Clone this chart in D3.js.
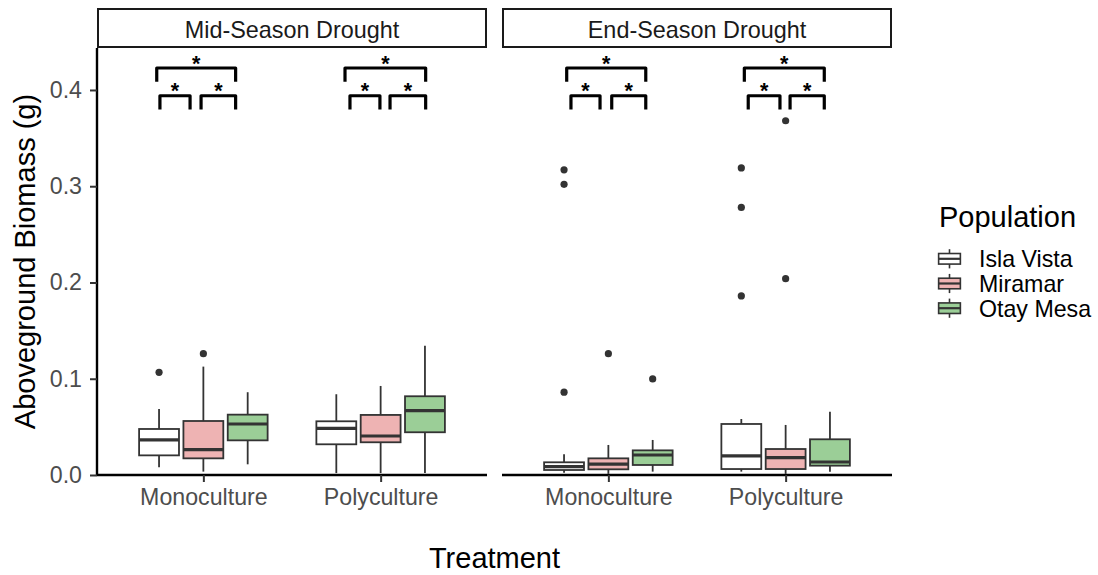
<!DOCTYPE html>
<html>
<head>
<meta charset="utf-8">
<script src="https://cdn.jsdelivr.net/npm/d3@7"></script>
<style>
  html, body { margin: 0; padding: 0; background: #ffffff; }
  svg { display: block; font-family: "Liberation Sans", Arial, sans-serif; }
</style>
</head>
<body>
<svg id="chart" width="1098" height="575"></svg>
<script>
// Facets, x categories and fill groups
const droughts = ["Mid-Season Drought", "End-Season Drought"];
const treatments = ["Monoculture", "Polyculture"];
const populations = ["Isla Vista", "Miramar", "Otay Mesa"];
const popColors = ["#ffffff", "#eeb3b3", "#9bce97"];
const yTicks = [0.0, 0.1, 0.2, 0.3, 0.4];

// Box statistics, ordered drought > treatment > population
const whiskerLow = [0.0080, 0.0035, 0.0111, 0.0020, 0.0020, 0.0020,
                    0.0024, 0.0012, 0.0035, 0.0035, 0.0012, 0.0035];
const q1 =         [0.0204, 0.0173, 0.0360, 0.0319, 0.0340, 0.0444,
                    0.0052, 0.0059, 0.0104, 0.0062, 0.0062, 0.0097];
const median =     [0.0364, 0.0263, 0.0530, 0.0485, 0.0405, 0.0669,
                    0.0087, 0.0114, 0.0208, 0.0198, 0.0180, 0.0135];
const q3 =         [0.0478, 0.0561, 0.0627, 0.0558, 0.0624, 0.0818,
                    0.0132, 0.0173, 0.0256, 0.0530, 0.0270, 0.0371];
const whiskerHigh =[0.0686, 0.1126, 0.0860, 0.0839, 0.0925, 0.1344,
                    0.0215, 0.0312, 0.0364, 0.0582, 0.0520, 0.0658];
const outliers = [[0.1067], [0.1260], [], [], [], [],
                  [0.0860, 0.3020, 0.3170], [0.1260], [0.0998],
                  [0.1860, 0.2780, 0.3190], [0.2040, 0.3680], []];

// Significance brackets: offsets (in category steps) from each treatment position
const bracketDrought =   [0, 0, 0, 0, 0, 0, 1, 1, 1, 1, 1, 1];
const bracketTreatment = [0, 0, 0, 1, 1, 1, 0, 0, 0, 1, 1, 1];
const bracketStart = [-0.263, -0.245, -0.013, -0.201, -0.173, 0.053,
                      -0.235, -0.211, 0.019, -0.233, -0.211, 0.025];
const bracketEnd =   [0.182, -0.075, 0.182, 0.254, -0.004, 0.254,
                      0.211, -0.047, 0.211, 0.218, -0.032, 0.218];
const bracketY =     [0.4228, 0.3940, 0.3940, 0.4228, 0.3940, 0.3940,
                      0.4228, 0.3940, 0.3940, 0.4228, 0.3940, 0.3940];
const bracketTip = 0.0142;
const bracketLabel = "*";

const svg = d3.select("#chart");
const panelW = 390, panelGap = 15, panelLeft = 97;
const panelTop = 48, panelBottom = 475, stripTop = 9;
const ink = "#333333";

const y = d3.scaleLinear().domain([0, 0.4436]).range([panelBottom, panelTop]);

droughts.forEach((dr, di) => {
  const x0 = panelLeft + di * (panelW + panelGap);
  const x = d3.scalePoint().domain(treatments).range([x0, x0 + panelW]).padding(0.6);
  const step = x.step();
  const g = svg.append("g");

  // strip
  g.append("rect")
    .attr("x", x0 + 1).attr("y", stripTop)
    .attr("width", panelW - 2).attr("height", panelTop - stripTop - 1)
    .attr("fill", "#ffffff").attr("stroke", "#1a1a1a").attr("stroke-width", 2);
  g.append("text")
    .attr("x", x0 + panelW / 2).attr("y", 37.5)
    .attr("text-anchor", "middle").attr("font-size", 23.4).attr("fill", "#1a1a1a")
    .text(dr);

  // boxes
  treatments.forEach((tr, ti) => {
    populations.forEach((pop, pi) => {
      const k = di * 6 + ti * 3 + pi;
      const cx = x(tr) + (pi - 1) * 0.25 * step;
      const bw = 0.225 * step;
      g.append("line")
        .attr("x1", cx).attr("x2", cx)
        .attr("y1", y(whiskerHigh[k])).attr("y2", y(q3[k]))
        .attr("stroke", ink).attr("stroke-width", 1.8);
      g.append("line")
        .attr("x1", cx).attr("x2", cx)
        .attr("y1", y(q1[k])).attr("y2", y(whiskerLow[k]))
        .attr("stroke", ink).attr("stroke-width", 1.8);
      g.append("rect")
        .attr("x", cx - bw / 2).attr("y", y(q3[k]))
        .attr("width", bw).attr("height", y(q1[k]) - y(q3[k]))
        .attr("fill", popColors[pi]).attr("stroke", ink).attr("stroke-width", 1.8);
      g.append("line")
        .attr("x1", cx - bw / 2).attr("x2", cx + bw / 2)
        .attr("y1", y(median[k])).attr("y2", y(median[k]))
        .attr("stroke", ink).attr("stroke-width", 3.2);
      g.selectAll(null).data(outliers[k]).enter().append("circle")
        .attr("cx", cx).attr("cy", d => y(d)).attr("r", 3.6)
        .attr("fill", ink);
    });
  });

  // significance brackets
  bracketY.forEach((by, b) => {
    if (bracketDrought[b] !== di) return;
    const c = x(treatments[bracketTreatment[b]]);
    const xa = c + bracketStart[b] * step, xb = c + bracketEnd[b] * step;
    const path = d3.path();
    path.moveTo(xa, y(by - bracketTip));
    path.lineTo(xa, y(by));
    path.lineTo(xb, y(by));
    path.lineTo(xb, y(by - bracketTip));
    g.append("path").attr("d", path.toString())
      .attr("fill", "none").attr("stroke", "#000").attr("stroke-width", 3.2)
      .attr("stroke-linejoin", "round");
    g.append("text")
      .attr("x", (xa + xb) / 2).attr("y", y(by) + 2.5)
      .attr("text-anchor", "middle").attr("font-size", 21.5).attr("font-weight", "bold")
      .text(bracketLabel);
  });

  // x axis
  const xAxis = g.append("g").attr("transform", `translate(0,${panelBottom})`)
    .call(d3.axisBottom(x).tickSize(7).tickPadding(7));
  xAxis.select(".domain").attr("d", `M${x0},0H${x0 + panelW}`)
    .attr("stroke", "#000").attr("stroke-width", 2.4);
  xAxis.selectAll(".tick line").attr("stroke", ink).attr("stroke-width", 2);
  xAxis.selectAll(".tick text").attr("font-size", 23.2).attr("fill", "#4d4d4d")
    .attr("font-family", "Liberation Sans, Arial, sans-serif");

  // y axis on the first panel only
  if (di === 0) {
    const yAxis = g.append("g").attr("transform", `translate(${x0},0)`)
      .call(d3.axisLeft(y).tickValues(yTicks).tickFormat(d3.format(".1f")).tickSize(7).tickPadding(8));
    yAxis.select(".domain").attr("d", `M0,${panelTop}V${panelBottom}`)
      .attr("stroke", "#000").attr("stroke-width", 2.4);
    yAxis.selectAll(".tick line").attr("stroke", ink).attr("stroke-width", 2);
    yAxis.selectAll(".tick text").attr("font-size", 23.2).attr("fill", "#4d4d4d")
      .attr("font-family", "Liberation Sans, Arial, sans-serif");
  }
});

// axis titles
svg.append("text")
  .attr("x", panelLeft + (2 * panelW + panelGap) / 2).attr("y", 568)
  .attr("text-anchor", "middle").attr("font-size", 29).attr("fill", "#000")
  .text("Treatment");
svg.append("text")
  .attr("transform", `translate(35,${(panelTop + panelBottom) / 2}) rotate(-90)`)
  .attr("text-anchor", "middle").attr("font-size", 29).attr("fill", "#000")
  .text("Aboveground Biomass (g)");

// legend
const legend = svg.append("g");
legend.append("text").attr("x", 939).attr("y", 227)
  .attr("font-size", 29).attr("fill", "#000").text("Population");
populations.forEach((pop, i) => {
  const cy = 258.8 + i * 24.7;
  const kx = 935, kw = 29, kh = 24;
  const cx = kx + kw / 2;
  legend.append("line").attr("x1", cx).attr("x2", cx)
    .attr("y1", cy - kh * 0.4).attr("y2", cy + kh * 0.4)
    .attr("stroke", ink).attr("stroke-width", 1.6);
  legend.append("rect")
    .attr("x", kx + kw * 0.125).attr("y", cy - kh * 0.22)
    .attr("width", kw * 0.75).attr("height", kh * 0.44)
    .attr("fill", popColors[i]).attr("stroke", ink).attr("stroke-width", 1.6);
  legend.append("line").attr("x1", kx + kw * 0.125).attr("x2", kx + kw * 0.875)
    .attr("y1", cy).attr("y2", cy)
    .attr("stroke", ink).attr("stroke-width", 2.2);
  legend.append("text").attr("x", 979).attr("y", cy + 8.4)
    .attr("font-size", 23.2).attr("fill", "#000").text(pop);
});
</script>
</body>
</html>
